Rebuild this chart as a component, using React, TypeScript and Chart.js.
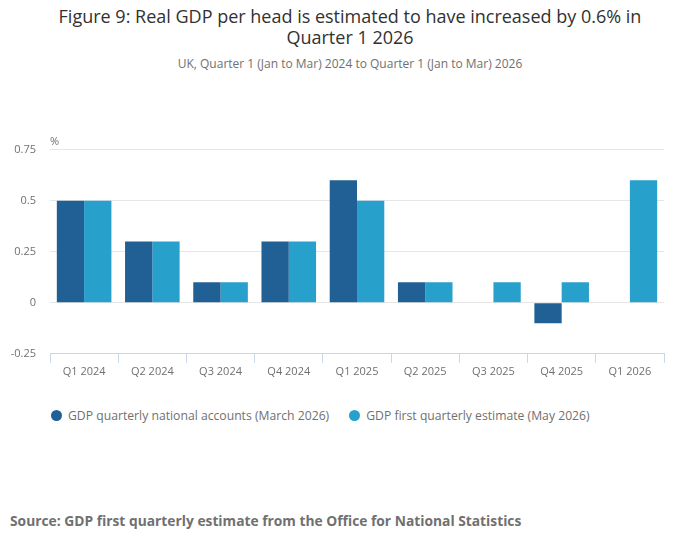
import { useEffect, useRef } from 'react';
import { Chart, registerables } from 'chart.js';

Chart.register(...registerables);

const quarters = ['Q1 2024', 'Q2 2024', 'Q3 2024', 'Q4 2024', 'Q1 2025', 'Q2 2025', 'Q3 2025', 'Q4 2025', 'Q1 2026'];
const marchValues = [0.5, 0.3, 0.1, 0.3, 0.6, 0.1, 0, -0.1, null];
const mayValues = [0.5, 0.3, 0.1, 0.3, 0.5, 0.1, 0.1, 0.1, 0.6];
const seriesNames = ['GDP quarterly national accounts (March 2026)', 'GDP first quarterly estimate (May 2026)'];
const seriesColors = ['#206095', '#27a0cc'];

const FONT = '"Open Sans", "Noto Sans", sans-serif';
const TEXT_GREY = '#707070';

// "%" unit label above the y axis
const unitLabel = {
  id: 'unitLabel',
  afterDraw(chart: Chart) {
    const { ctx, chartArea } = chart;
    ctx.save();
    ctx.font = `11px ${FONT}`;
    ctx.fillStyle = TEXT_GREY;
    ctx.textAlign = 'left';
    ctx.textBaseline = 'middle';
    ctx.fillText('%', chartArea.left, chartArea.top - 8);
    ctx.restore();
  },
};

const App = () => {
  const chartRef = useRef<HTMLCanvasElement | null>(null);
  const chartInstance = useRef<Chart | null>(null);

  useEffect(() => {
    document.body.style.margin = '0';
    if (!chartRef.current) return;

    if (chartInstance.current) {
      chartInstance.current.destroy();
    }

    chartInstance.current = new Chart(chartRef.current, {
      type: 'bar',
      data: {
        labels: quarters,
        datasets: [
          { label: seriesNames[0], data: marchValues, backgroundColor: seriesColors[0], borderWidth: 0 },
          { label: seriesNames[1], data: mayValues, backgroundColor: seriesColors[1], borderWidth: 0 },
        ],
      },
      options: {
        animation: false,
        responsive: true,
        maintainAspectRatio: false,
        datasets: { bar: { barPercentage: 1, categoryPercentage: 0.8 } },
        layout: { padding: { left: 8, right: 36, top: 20, bottom: 0 } },
        plugins: {
          legend: { display: false },
          tooltip: { enabled: false },
        },
        scales: {
          x: {
            grid: {
              offset: true,
              drawOnChartArea: false,
              drawTicks: true,
              tickLength: 9,
              color: '#ccd6eb',
            },
            border: { color: '#ccd6eb' },
            ticks: { color: TEXT_GREY, font: { family: FONT, size: 11 }, padding: 2, maxRotation: 0 },
          },
          y: {
            min: -0.25,
            max: 0.75,
            afterFit: scale => {
              scale.width = 42;
            },
            grid: {
              drawTicks: false,
              color: ctx => (ctx.tick && ctx.tick.value === -0.25 ? 'rgba(0,0,0,0)' : '#e6e6e6'),
            },
            border: { display: false },
            ticks: {
              stepSize: 0.25,
              color: TEXT_GREY,
              font: { family: FONT, size: 11 },
              padding: 14,
              callback: v => String(v),
            },
          },
        },
      },
      plugins: [unitLabel],
    });

    return () => {
      if (chartInstance.current) {
        chartInstance.current.destroy();
      }
    };
  }, []);

  return (
    <div style={{ position: 'relative', width: 700, height: 549, fontFamily: FONT, background: '#fff' }}>
      <div style={{ position: 'absolute', top: 6, left: 40, width: 620, textAlign: 'center', fontSize: 18, lineHeight: '21px', color: '#323132' }}>
        Figure 9: Real GDP per head is estimated to have increased by 0.6% in Quarter 1 2026
      </div>
      <div style={{ position: 'absolute', top: 55, left: 0, width: 700, textAlign: 'center', fontSize: 12, color: TEXT_GREY }}>
        UK, Quarter 1 (Jan to Mar) 2024 to Quarter 1 (Jan to Mar) 2026
      </div>
      <div style={{ position: 'absolute', top: 129, left: 0, width: 700, height: 251 }}>
        <canvas ref={chartRef}></canvas>
      </div>
      <div style={{ position: 'absolute', top: 407, left: 51, display: 'flex', gap: 20, fontSize: 12.2, color: TEXT_GREY }}>
        {seriesNames.map((name, i) => (
          <div key={i} style={{ display: 'flex', alignItems: 'center', gap: 6 }}>
            <div style={{ width: 11, height: 11, borderRadius: '50%', background: seriesColors[i] }} />
            <span>{name}</span>
          </div>
        ))}
      </div>
      <div style={{ position: 'absolute', top: 511, left: 10, fontSize: 13.8, fontWeight: 700, color: TEXT_GREY }}>
        Source: GDP first quarterly estimate from the Office for National Statistics
      </div>
    </div>
  );
};

export default App;
